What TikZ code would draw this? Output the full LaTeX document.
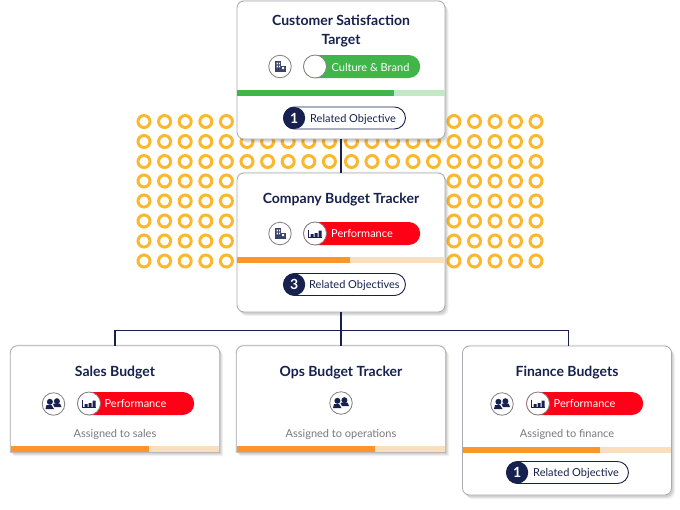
\documentclass[tikz,border=0pt]{standalone}
\usepackage{fontspec}
\setmainfont{Lato}
\usetikzlibrary{shadows,calc}
\definecolor{navy}{HTML}{16214F}
\definecolor{dotc}{HTML}{FBB82F}
\definecolor{edgec}{HTML}{A9A9AE}
\definecolor{greenc}{HTML}{3FB54A}
\definecolor{greenl}{HTML}{C3E8C6}
\definecolor{orangec}{HTML}{FC962A}
\definecolor{orangel}{HTML}{FADFBF}
\definecolor{redc}{HTML}{FF0016}
\definecolor{greytext}{HTML}{7A7A7E}
\tikzset{
  x=1pt,y=-1pt,
  softshadow/.style={
    general shadow={fill=black,opacity=.05,shadow xshift=0pt,shadow yshift=1.5pt},
    general shadow={fill=black,opacity=.05,shadow xshift=3.5pt,shadow yshift=-4pt},
    general shadow={fill=black,opacity=.06,shadow xshift=2.5pt,shadow yshift=-3pt},
    general shadow={fill=black,opacity=.08,shadow xshift=1.5pt,shadow yshift=-2pt}},
  cardbox/.style={draw=edgec,line width=.8pt,fill=white,rounded corners=7pt,inner sep=0pt,
    minimum width=#1,softshadow},
  cardedge/.style={draw=edgec,line width=.8pt,fill=white,softshadow},
  hollow/.style={inner sep=0pt,minimum width=209pt,minimum height=106pt},
  title/.style={font=\fontsize{14}{18}\selectfont\bfseries,text=navy,align=center,inner sep=0pt,yshift=-1.5pt},
  note/.style={font=\fontsize{11}{13}\selectfont,text=greytext,inner sep=0pt,yshift=-1pt},
  pilllabel/.style={font=\fontsize{11}{13}\selectfont,text=white,inner sep=0pt,yshift=-.5pt},
  rellabel/.style={font=\fontsize{11}{13}\selectfont,text=navy,inner sep=0pt,yshift=-1pt},
  linkline/.style={draw=navy,line width=1.8pt},
  ring/.style={draw=dotc,line width=3pt,circle,inner sep=0pt,minimum size=12pt},
  iconring/.style={circle,draw=gray,line width=.8pt,fill=white,minimum size=22.5pt,inner sep=0pt},
  bldgicon/.pic={
    \fill[navy!85] (-5,-5.5) rectangle (1,5);
    \fill[navy!85] (1,-1) rectangle (5.5,5);
    \fill[white] (-3.5,-3.8) rectangle (-1.8,-2.2) (-.9,-3.8) rectangle (.2,-2.2)
      (-3.5,-.8) rectangle (-1.8,.8) (-.9,-.8) rectangle (.2,.8) (2.2,.5) rectangle (4.2,2.5);
  },
  peopleicon/.pic={
    \fill[navy] (-3.6,-2.2) circle[radius=3pt];
    \fill[navy] (3.4,-2.8) circle[radius=3pt];
    \fill[navy] (-8,5) -- (-7,1) -- (-2,1) -- (.5,5) -- cycle;
    \fill[navy] (1,3) -- (-.5,.2) -- (.5,-.5) -- (6.5,-.5) -- (8,3) -- cycle;
  },
  barsicon/.pic={
    \draw[navy,line width=.9pt] (-6.5,-3.5) -- (-6.5,4) -- (7,4);
    \fill[navy] (-4.5,.5) rectangle (-1.5,3.5) (-.5,-.5) rectangle (2.5,3.5) (3.5,-3) rectangle (6.5,3.5);
  }
}
\newcommand{\catpill}[6]{% name, left x, centre y, colour, label, label centre x
  \node[fill=#4,rounded corners=11.5pt,minimum width=117pt,minimum height=23pt,inner sep=0pt,anchor=west] (pill#1) at (#2,#3) {};
  \node[pilllabel] (pilltext#1) at (#6,#3) {#5};
}
\newcommand{\relpill}[6]{% name, left x, centre y, digit, label, label offset
  \node[draw=navy,line width=.9pt,fill=white,rounded corners=11pt,minimum width=122pt,minimum height=22pt,inner sep=0pt,anchor=west] (rel#1) at (#2,#3) {};
  \node[circle,fill=navy,minimum size=22pt,inner sep=0pt,text=white,font=\fontsize{14}{16}\selectfont\bfseries,anchor=west] (reldot#1) at (#2,#3) {#4};
  \node[rellabel,anchor=west] (reltext#1) at ($(#2,#3)+(#6,0)$) {#5};
}
\begin{document}
\begin{tikzpicture}
\useasboundingbox (0,0) rectangle (680,509);
\fill[white] (0,0) rectangle (680,509);
% ring field
\foreach \yy in {121.5,141.5,161.5,181,201,221,241,261}{
  \foreach \k in {0,...,9}{
    \pgfmathsetmacro{\xa}{144+20.6*\k}
    \pgfmathsetmacro{\xb}{351.5+20.5*\k}
    \node[ring] at (\xa,\yy) {};
    \node[ring] at (\xb,\yy) {};
  }
}
% cards
\node[cardbox=208pt,minimum height=138pt] (target) at (341,70) {};
\node[cardbox=208pt,minimum height=139pt] (company) at (341,242.5) {};
\node[cardbox=209pt,minimum height=149pt] (finance) at (567,420.5) {};
\node[hollow] (sales) at (115,399) {};
\node[hollow] (ops) at (341,399) {};
\draw[cardedge] (sales.south west) [rounded corners=7pt] -- (sales.north west) -- (sales.north east) [sharp corners] -- (sales.south east) -- cycle;
\draw[cardedge] (ops.south west) [rounded corners=7pt] -- (ops.north west) -- (ops.north east) [sharp corners] -- (ops.south east) -- cycle;
% connectors
\draw[linkline] (target) -- (company);
\draw[linkline] (company.south) -- (ops.north);
\coordinate (bus) at ($(company.south)+(0,18)$);
\draw[linkline] (bus) -| (sales.north);
\draw[linkline] (bus) -| ([xshift=1.5pt]finance.north);
% progress bars
\fill[greenl] (237.4,90) rectangle (444.6,95.5);
\fill[greenc] (237.4,90) rectangle (394,95.5);
\fill[orangel] (237.4,257) rectangle (444.6,262.5);
\fill[orangec] (237.4,257) rectangle (350,262.5);
\fill[orangel] (11,446) rectangle (219,451.5);
\fill[orangec] (11,446) rectangle (149,451.5);
\fill[orangel] (237,446) rectangle (445,451.5);
\fill[orangec] (237,446) rectangle (375,451.5);
\fill[orangel] (463,447) rectangle (671,452.5);
\fill[orangec] (463,447) rectangle (600,452.5);
% titles
\node[title] (ttarget) at (341,30) {Customer Satisfaction\\[1pt]Target};
\node[title] (tcompany) at (341,198) {Company Budget Tracker};
\node[title] (tsales) at (115,371) {Sales Budget};
\node[title] (tops) at (341,371) {Ops Budget Tracker};
\node[title] (tfinance) at (567,371) {Finance Budgets};
% notes
\node[note] (nsales) at (115,433.5) {Assigned to sales};
\node[note] (nops) at (341,433.5) {Assigned to operations};
\node[note] (nfinance) at (567,433.5) {Assigned to finance};
% category pills
\catpill{a}{303}{66.5}{greenc}{Culture \& Brand}{370.5}
\catpill{b}{303}{233.5}{redc}{Performance}{362}
\catpill{c}{77}{403.5}{redc}{Performance}{135.5}
\catpill{d}{526}{403.5}{redc}{Performance}{584.5}
% icons
\node[iconring] (ia) at (280,66.5) {}; \pic at (ia) {bldgicon};
\node[iconring] (ib) at (280,233.5) {}; \pic at (ib) {bldgicon};
\node[iconring] (ic) at (53.5,404) {}; \pic at (ic) {peopleicon};
\node[iconring] (id) at (341,403) {}; \pic at (id) {peopleicon};
\node[iconring] (ie) at (502,404) {}; \pic at (ie) {peopleicon};
\node[iconring,minimum size=23pt] (sa) at (315,66.5) {};
\node[iconring,minimum size=23pt] (sb) at (315,233.5) {}; \pic at (sb) {barsicon};
\node[iconring,minimum size=23pt] (sc) at (89,403.5) {}; \pic at (sc) {barsicon};
\node[iconring,minimum size=23pt] (sd) at (538,403.5) {}; \pic at (sd) {barsicon};
% related pills
\relpill{a}{283}{118}{1}{Related Objective}{27}
\relpill{b}{283}{284.5}{3}{Related Objectives}{26}
\relpill{c}{506}{472.5}{1}{Related Objective}{27}
\end{tikzpicture}
\end{document}
